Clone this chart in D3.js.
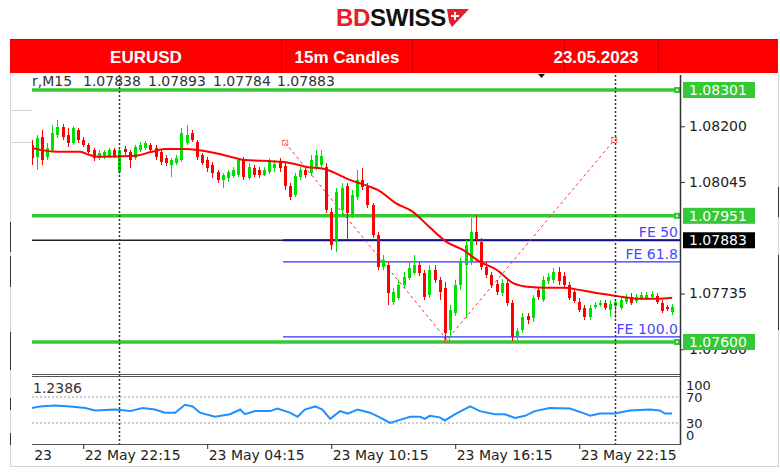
<!DOCTYPE html>
<html><head><meta charset="utf-8">
<script src="https://cdn.jsdelivr.net/npm/d3@7"></script>
<style>body{margin:0;background:#fff}svg{display:block}</style>
</head><body>
<svg id="c" width="780" height="473"></svg>
<script>
// ---------- DATA ----------
const headerCells = ["EURUSD", "15m Candles", "23.05.2023"];
const infoLine = ["r,M15", "1.07838", "1.07893", "1.07784", "1.07883"];

const openP = [1.08148,1.08115,1.08170,1.08115,1.08134,1.08176,1.08198,1.08176,1.08154,1.08190,
1.08162,1.08148,1.08134,1.08112,1.08115,1.08115,1.08134,1.08073,1.08137,1.08129,
1.08112,1.08134,1.08140,1.08148,1.08140,1.08129,1.08112,1.08093,1.08098,1.08106,
1.08154,1.08181,1.08156,1.08120,1.08106,1.08093,1.08073,1.08051,1.08056,1.08062,
1.08065,1.08106,1.08056,1.08084,1.08079,1.08065,1.08073,1.08084,1.08101,1.08090,
1.08034,1.08009,1.08059,1.08079,1.08070,1.08084,1.08093,1.08087,1.07962,1.07878,
1.07967,1.08034,1.07953,1.08003,1.08051,1.08031,1.07981,1.07898,1.07809,1.07815,
1.07712,1.07723,1.07759,1.07778,1.07792,1.07815,1.07792,1.07731,1.07801,1.07773,
1.07751,1.07634,1.07681,1.07759,1.07815,1.07823,1.07906,1.07878,1.07809,1.07787,
1.07762,1.07737,1.07764,1.07709,1.07617,1.07634,1.07672,1.07667,1.07745,1.07717,
1.07770,1.07773,1.07795,1.07784,1.07759,1.07739,1.07712,1.07695,1.07670,1.07698,
1.07703,1.07709,1.07689,1.07700,1.07695,1.07712,1.07725,1.07714,1.07723,1.07723,
1.07725,1.07728,1.07709,1.07698,1.07684];
const highP = [1.08162,1.08176,1.08190,1.08154,1.08204,1.08218,1.08206,1.08195,1.08201,1.08195,
1.08170,1.08154,1.08140,1.08134,1.08134,1.08140,1.08140,1.08143,1.08145,1.08134,
1.08148,1.08156,1.08159,1.08154,1.08148,1.08134,1.08120,1.08112,1.08120,1.08195,
1.08204,1.08190,1.08162,1.08126,1.08115,1.08101,1.08079,1.08070,1.08079,1.08087,
1.08112,1.08115,1.08098,1.08093,1.08087,1.08087,1.08112,1.08106,1.08112,1.08098,
1.08042,1.08070,1.08087,1.08084,1.08120,1.08134,1.08134,1.08098,1.07973,1.08029,
1.08042,1.08042,1.08023,1.08079,1.08084,1.08042,1.07987,1.07906,1.07842,1.07823,
1.07751,1.07773,1.07795,1.07823,1.07842,1.07823,1.07801,1.07815,1.07815,1.07781,
1.07767,1.07703,1.07773,1.07834,1.07884,1.07945,1.07953,1.07890,1.07823,1.07795,
1.07773,1.07776,1.07773,1.07717,1.07639,1.07681,1.07681,1.07731,1.07753,1.07784,
1.07792,1.07806,1.07809,1.07795,1.07767,1.07751,1.07723,1.07703,1.07703,1.07712,
1.07717,1.07717,1.07717,1.07720,1.07725,1.07734,1.07737,1.07734,1.07739,1.07739,
1.07742,1.07737,1.07717,1.07703,1.07706];
const lowP = [1.08093,1.08079,1.08093,1.08106,1.08129,1.08168,1.08162,1.08143,1.08148,1.08154,
1.08143,1.08120,1.08104,1.08106,1.08109,1.08112,1.08112,1.08067,1.08120,1.08084,
1.08106,1.08129,1.08134,1.08126,1.08106,1.08093,1.08090,1.08059,1.08093,1.08101,
1.08148,1.08156,1.08106,1.08093,1.08073,1.08056,1.08042,1.08029,1.08045,1.08056,
1.08059,1.08051,1.08051,1.08059,1.08056,1.08062,1.08067,1.08073,1.08073,1.08023,
1.07995,1.08003,1.08051,1.08056,1.08062,1.08079,1.08084,1.07959,1.07856,1.07851,
1.07953,1.07884,1.07945,1.07995,1.08023,1.07973,1.07890,1.07801,1.07801,1.07703,
1.07703,1.07717,1.07751,1.07773,1.07787,1.07784,1.07717,1.07723,1.07764,1.07717,
1.07606,1.07614,1.07672,1.07745,1.07667,1.07815,1.07870,1.07801,1.07778,1.07751,
1.07731,1.07728,1.07700,1.07603,1.07603,1.07625,1.07650,1.07656,1.07717,1.07712,
1.07762,1.07764,1.07759,1.07751,1.07717,1.07709,1.07684,1.07662,1.07662,1.07692,
1.07698,1.07689,1.07670,1.07667,1.07689,1.07706,1.07703,1.07709,1.07717,1.07717,
1.07720,1.07706,1.07681,1.07686,1.07675];
const closeP = [1.08112,1.08168,1.08106,1.08140,1.08181,1.08198,1.08170,1.08154,1.08195,1.08162,
1.08148,1.08129,1.08112,1.08126,1.08129,1.08134,1.08118,1.08134,1.08129,1.08106,
1.08143,1.08148,1.08154,1.08134,1.08115,1.08101,1.08098,1.08106,1.08112,1.08181,
1.08176,1.08162,1.08115,1.08098,1.08084,1.08070,1.08051,1.08065,1.08073,1.08079,
1.08106,1.08059,1.08087,1.08065,1.08065,1.08079,1.08101,1.08095,1.08084,1.08034,
1.08003,1.08062,1.08079,1.08065,1.08106,1.08120,1.08118,1.07967,1.07870,1.08017,
1.08029,1.07959,1.08009,1.08051,1.08031,1.07981,1.07898,1.07809,1.07828,1.07737,
1.07739,1.07759,1.07781,1.07806,1.07815,1.07792,1.07725,1.07801,1.07773,1.07739,
1.07625,1.07689,1.07759,1.07823,1.07870,1.07906,1.07884,1.07809,1.07787,1.07759,
1.07739,1.07764,1.07709,1.07614,1.07631,1.07670,1.07662,1.07723,1.07725,1.07773,
1.07781,1.07795,1.07770,1.07759,1.07723,1.07714,1.07689,1.07670,1.07695,1.07703,
1.07709,1.07695,1.07706,1.07712,1.07717,1.07725,1.07709,1.07725,1.07731,1.07731,
1.07734,1.07712,1.07686,1.07692,1.07698];

// moving average read at points along the curve: [bar, price]
const maPoints = [[0,1.08140],[5,1.08129],[9.4,1.08129],[11.3,1.08120],[13.3,1.08115],[20,1.08118],
[23.3,1.08129],[25.8,1.08137],[29.7,1.08137],[32.2,1.08134],[35.5,1.08126],[39.4,1.08112],
[41.3,1.08106],[44.7,1.08104],[50,1.08098],[53.3,1.08087],[56.7,1.08081],[59.5,1.08065],
[61.6,1.08051],[64.5,1.08037],[67.4,1.08020],[70.4,1.07987],[73.8,1.07962],[77,1.07920],
[80.4,1.07878],[83.5,1.07856],[86.8,1.07823],[90,1.07801],[93.2,1.07764],[96.5,1.07753],
[99.5,1.07751],[103,1.07751],[106,1.07745],[109,1.07737],[112,1.07731],[114.5,1.07725],
[117.5,1.07720],[121,1.07720],[124,1.07723]];

// RSI readings: [bar, value]
const rsiPoints = [[0,53],[1.6,55.5],[4.5,57],[7.5,55.5],[10.4,53],[12.3,49.3],[16.2,50.7],
[19.1,48.3],[21.5,53],[23.9,50.7],[25.8,45.9],[27.8,45.9],[29.7,58],[31.2,55.5],[32.6,45.9],
[35.5,39.6],[38.4,43.5],[40.4,50.7],[41.3,43.5],[43.3,48.3],[46.2,48.3],[47.6,52.2],[50,45.9],
[51.5,39.6],[52.9,50.7],[54.9,55.5],[56.3,50.7],[57.8,36.3],[59.7,48.3],[61.2,44.5],[63.1,50.7],
[65.5,45.9],[67.4,38.7],[69.4,30],[71.3,34.8],[73.3,39.6],[75.2,39.6],[76.1,36.3],[77.1,41.1],
[79,38.7],[80,33.9],[82,43.5],[84.9,55.5],[86.8,48.3],[89.7,43.5],[91.6,43.5],[93.6,37.7],
[95.5,41.1],[97.4,48.3],[100.3,53],[104.2,52.2],[107.1,44.5],[108.1,41.1],[110,44.5],
[112.9,44.5],[115.8,49.3],[119.7,50.7],[121.6,49.3],[122.6,44.5],[124,44.5]];

const priceTicks = [1.08200, 1.08045, 1.07735, 1.07580];
const greenLevels = [1.08301, 1.07951, 1.07600];
const bidLevel = 1.07883;
const feLabels = ["FE 50", "FE 61.8", "FE 100.0"];
const feValues = [1.07883, 1.07823, 1.07614];
const feStartBar = 48.7;
const zigzag = [[49.1, 1.08154], [80.4, 1.07606], [112.8, 1.08162]];
const separators = [17, 113];
const timeTicks = [-14, 10, 34, 58, 82, 106];
const timeLabels = ["22 May 2023", "22 May 22:15", "23 May 04:15", "23 May 10:15", "23 May 16:15", "23 May 22:15"];
const rsiValueLabel = "1.2386";
const rsiGrid = [70, 30];
const rsiTickLabels = [100, 70, 30, 0];

// ---------- DRAW ----------
const svg = d3.select("#c");
const AX = "DejaVu Sans, Verdana, sans-serif";
const GREEN = "#35c935", BULL = "#00e000", BEAR = "#ff0000";

const L = 32, R = 680, T = 75, MB = 374, RT = 376, RB = 444;
const x = d3.scaleLinear().domain([0, 124]).range([31.5, 672.2]);
const y = d3.scaleLinear().domain([1.07600, 1.08301]).range([342, 90]);
const ry = d3.scaleLinear().domain([0, 100]).range([442.5, 377.5]);

svg.append("rect").attr("width", 780).attr("height", 473).attr("fill", "#fff");

// page / table borders
const frame = svg.append("g").attr("stroke", "#d4d4d4").attr("stroke-width", 1);
frame.append("line").attr("x1", 10.5).attr("x2", 10.5).attr("y1", 73).attr("y2", 466);
frame.append("line").attr("x1", 778.5).attr("x2", 778.5).attr("y1", 73).attr("y2", 466);
frame.append("line").attr("x1", 10).attr("x2", 779).attr("y1", 466.5).attr("y2", 466.5);
frame.append("line").attr("x1", 10).attr("x2", 32).attr("y1", 110.5).attr("y2", 110.5);
frame.append("line").attr("x1", 10).attr("x2", 32).attr("y1", 142.5).attr("y2", 142.5);
[[222,252],[256,287],[332,370],[398,410],[433,445]].forEach(s =>
  svg.append("line").attr("x1", 10.5).attr("x2", 10.5).attr("y1", s[0]).attr("y2", s[1]).attr("stroke", "#333"));
[[187,217],[255,330]].forEach(s =>
  svg.append("line").attr("x1", 778.5).attr("x2", 778.5).attr("y1", s[0]).attr("y2", s[1]).attr("stroke", "#333"));

// logo
const logo = svg.append("text").attr("x", 336).attr("y", 26)
  .attr("font-family", "Liberation Sans, Arial, sans-serif").attr("font-weight", "bold")
  .attr("font-size", 24).attr("letter-spacing", -0.3);
logo.append("tspan").attr("fill", "#e3202b").text("BD");
logo.append("tspan").attr("fill", "#111").text("SWISS");
svg.append("path").attr("d", "M447,9 L469,9 L452,27 L449,22 Z").attr("fill", "#e3202b");
svg.append("path").attr("d", "M455,12 v8 M451,16 h8").attr("stroke", "#fff").attr("stroke-width", 2);

// header bar
svg.append("rect").attr("x", 10).attr("y", 39).attr("width", 768).attr("height", 34).attr("fill", "#ff0000");
svg.append("line").attr("x1", 10).attr("x2", 778).attr("y1", 39.5).attr("y2", 39.5).attr("stroke", "#d80000");
[281, 412, 564, 658].forEach(d => svg.append("line").attr("x1", d + .5).attr("x2", d + .5)
  .attr("y1", 39).attr("y2", 73).attr("stroke", "#cc0000"));
const cellCenters = [146, 347, 596];
headerCells.forEach((t, i) => svg.append("text").attr("x", cellCenters[i]).attr("y", 62.5)
  .attr("text-anchor", "middle").attr("fill", "#fff").attr("font-weight", "bold")
  .attr("font-family", "Liberation Sans, Arial, sans-serif").attr("font-size", 17).text(t));

// clip for panes
const defs = svg.append("defs");
defs.append("clipPath").attr("id", "main").append("rect").attr("x", L).attr("y", T).attr("width", R - L).attr("height", MB - T);
defs.append("clipPath").attr("id", "rsi").append("rect").attr("x", L).attr("y", RT).attr("width", R - L).attr("height", RB - RT);
defs.append("clipPath").attr("id", "taxis").append("rect").attr("x", 34).attr("y", 0).attr("width", 780 - 34).attr("height", 30);

// right axis labels (under level boxes)
const yAxis = d3.axisRight(y).tickValues(priceTicks).tickFormat(d3.format(".5f")).tickSize(5).tickPadding(4);
const ya = svg.append("g").attr("transform", `translate(${R},0)`).call(yAxis);
ya.select(".domain").remove();
ya.selectAll("line").attr("stroke", "#333");
ya.selectAll("text").attr("font-family", AX).attr("font-size", 14).attr("fill", "#222");

const main = svg.append("g").attr("clip-path", "url(#main)");

// separators
separators.forEach(s => svg.append("line").attr("x1", Math.round(x(s)) + .5).attr("x2", Math.round(x(s)) + .5)
  .attr("y1", T).attr("y2", RB).attr("stroke", "#333").attr("stroke-width", 1.5).attr("stroke-dasharray", "2,2"));

// bid line
main.append("line").attr("x1", L).attr("x2", R).attr("y1", y(bidLevel)).attr("y2", y(bidLevel))
  .attr("stroke", "#222").attr("stroke-width", 1.5);

// green levels
greenLevels.forEach(v => {
  main.append("line").attr("x1", L).attr("x2", R).attr("y1", y(v)).attr("y2", y(v))
    .attr("stroke", GREEN).attr("stroke-width", 3.5);
  main.append("rect").attr("x", 674).attr("y", y(v) - 3).attr("width", 6).attr("height", 6).attr("fill", GREEN);
  main.append("rect").attr("x", 676).attr("y", y(v) - 1).attr("width", 2).attr("height", 2).attr("fill", "#d8f8d8");
});

// FE lines
feValues.forEach((v, i) => {
  main.append("line").attr("x1", x(feStartBar)).attr("x2", R).attr("y1", y(v)).attr("y2", y(v))
    .attr("stroke", i === 0 ? "#10108a" : "#3030ff").attr("stroke-width", i === 0 ? 2 : 1.2);
  main.append("text").attr("x", 678).attr("y", y(v) - 3).attr("text-anchor", "end")
    .attr("font-family", AX).attr("font-size", 14).attr("fill", "#4848ff").text(feLabels[i]);
});

// zigzag
main.append("path").attr("d", d3.line().x(d => x(d[0])).y(d => y(d[1]))(zigzag))
  .attr("fill", "none").attr("stroke", "#ff3030").attr("stroke-width", 1).attr("stroke-dasharray", "3,3");
zigzag.forEach(d => main.append("rect").attr("x", x(d[0]) - 2.5).attr("y", y(d[1]) - 2.5)
  .attr("width", 5).attr("height", 5).attr("fill", "none").attr("stroke", "#ff3030").attr("stroke-dasharray", "2,1"));

// candles
const bars = d3.range(openP.length);
const cg = main.append("g").attr("shape-rendering", "crispEdges");
bars.forEach(i => {
  const cx = Math.round(x(i));
  const col = closeP[i] >= openP[i] ? BULL : BEAR;
  cg.append("line").attr("x1", cx + .5).attr("x2", cx + .5).attr("y1", y(highP[i])).attr("y2", y(lowP[i]))
    .attr("stroke", col).attr("stroke-width", 1);
  const top = y(Math.max(openP[i], closeP[i])), bot = y(Math.min(openP[i], closeP[i]));
  cg.append("rect").attr("x", cx - 1).attr("y", top).attr("width", 3).attr("height", Math.max(1.5, bot - top)).attr("fill", col);
});

// MA
main.append("path").attr("d", d3.line().x(d => x(d[0])).y(d => y(d[1])).curve(d3.curveMonotoneX)(maPoints))
  .attr("fill", "none").attr("stroke", "#ff0000").attr("stroke-width", 2);

// info line
const infoX = [32, 83, 148, 213, 277];
infoLine.forEach((t, i) => svg.append("text").attr("x", infoX[i]).attr("y", 86)
  .attr("font-family", AX).attr("font-size", 14).attr("fill", "#333").text(t));
svg.append("path").attr("d", "M538,74 L545,74 L541.5,78 Z").attr("fill", "#111");

// level boxes on the axis
greenLevels.forEach(v => {
  svg.append("rect").attr("x", 683).attr("y", y(v) - 8).attr("width", 72).attr("height", 16).attr("fill", GREEN);
  svg.append("text").attr("x", 689).attr("y", y(v) + 5).attr("font-family", AX).attr("font-size", 14)
    .attr("fill", "#fff").text(d3.format(".5f")(v));
});
svg.append("rect").attr("x", 683).attr("y", y(bidLevel) - 8).attr("width", 72).attr("height", 16).attr("fill", "#000");
svg.append("text").attr("x", 689).attr("y", y(bidLevel) + 5).attr("font-family", AX).attr("font-size", 14)
  .attr("fill", "#fff").text(d3.format(".5f")(bidLevel));

// pane borders
svg.append("line").attr("x1", R + .5).attr("x2", R + .5).attr("y1", T).attr("y2", RB + .5).attr("stroke", "#333").attr("stroke-width", 1.5);
svg.append("line").attr("x1", L).attr("x2", R + 1).attr("y1", MB + .5).attr("y2", MB + .5).attr("stroke", "#555");
svg.append("line").attr("x1", L).attr("x2", R + 1).attr("y1", RT + .5).attr("y2", RT + .5).attr("stroke", "#555");
svg.append("line").attr("x1", L).attr("x2", R + 1).attr("y1", RB + .5).attr("y2", RB + .5).attr("stroke", "#555");

// RSI pane
const rg = svg.append("g").attr("clip-path", "url(#rsi)");
rsiGrid.forEach(v => rg.append("line").attr("x1", L).attr("x2", R).attr("y1", ry(v)).attr("y2", ry(v))
  .attr("stroke", "#999").attr("stroke-dasharray", "2,2"));
rg.append("path").attr("d", d3.line().x(d => x(d[0])).y(d => ry(d[1]))(rsiPoints))
  .attr("fill", "none").attr("stroke", "#1e90ff").attr("stroke-width", 2);
svg.append("text").attr("x", 33).attr("y", 393).attr("font-family", AX).attr("font-size", 14)
  .attr("fill", "#333").text(rsiValueLabel);
const rsiLabelY = {100: 390, 70: 402, 30: 428, 0: 440};
rsiTickLabels.forEach(v => svg.append("text").attr("x", 686).attr("y", rsiLabelY[v])
  .attr("font-family", AX).attr("font-size", 13).attr("fill", "#222").text(v));

// time axis
const xAxis = d3.axisBottom(x).tickValues(timeTicks).tickFormat((d, i) => timeLabels[i]).tickSize(5).tickPadding(1);
const xa = svg.append("g").attr("transform", `translate(0,${RB})`).attr("clip-path", "url(#taxis)").call(xAxis);
xa.select(".domain").remove();
xa.selectAll("line").attr("stroke", "#333");
xa.selectAll("text").attr("text-anchor", "start").attr("x", 1).attr("font-family", AX).attr("font-size", 14).attr("fill", "#222");
</script>
</body></html>
